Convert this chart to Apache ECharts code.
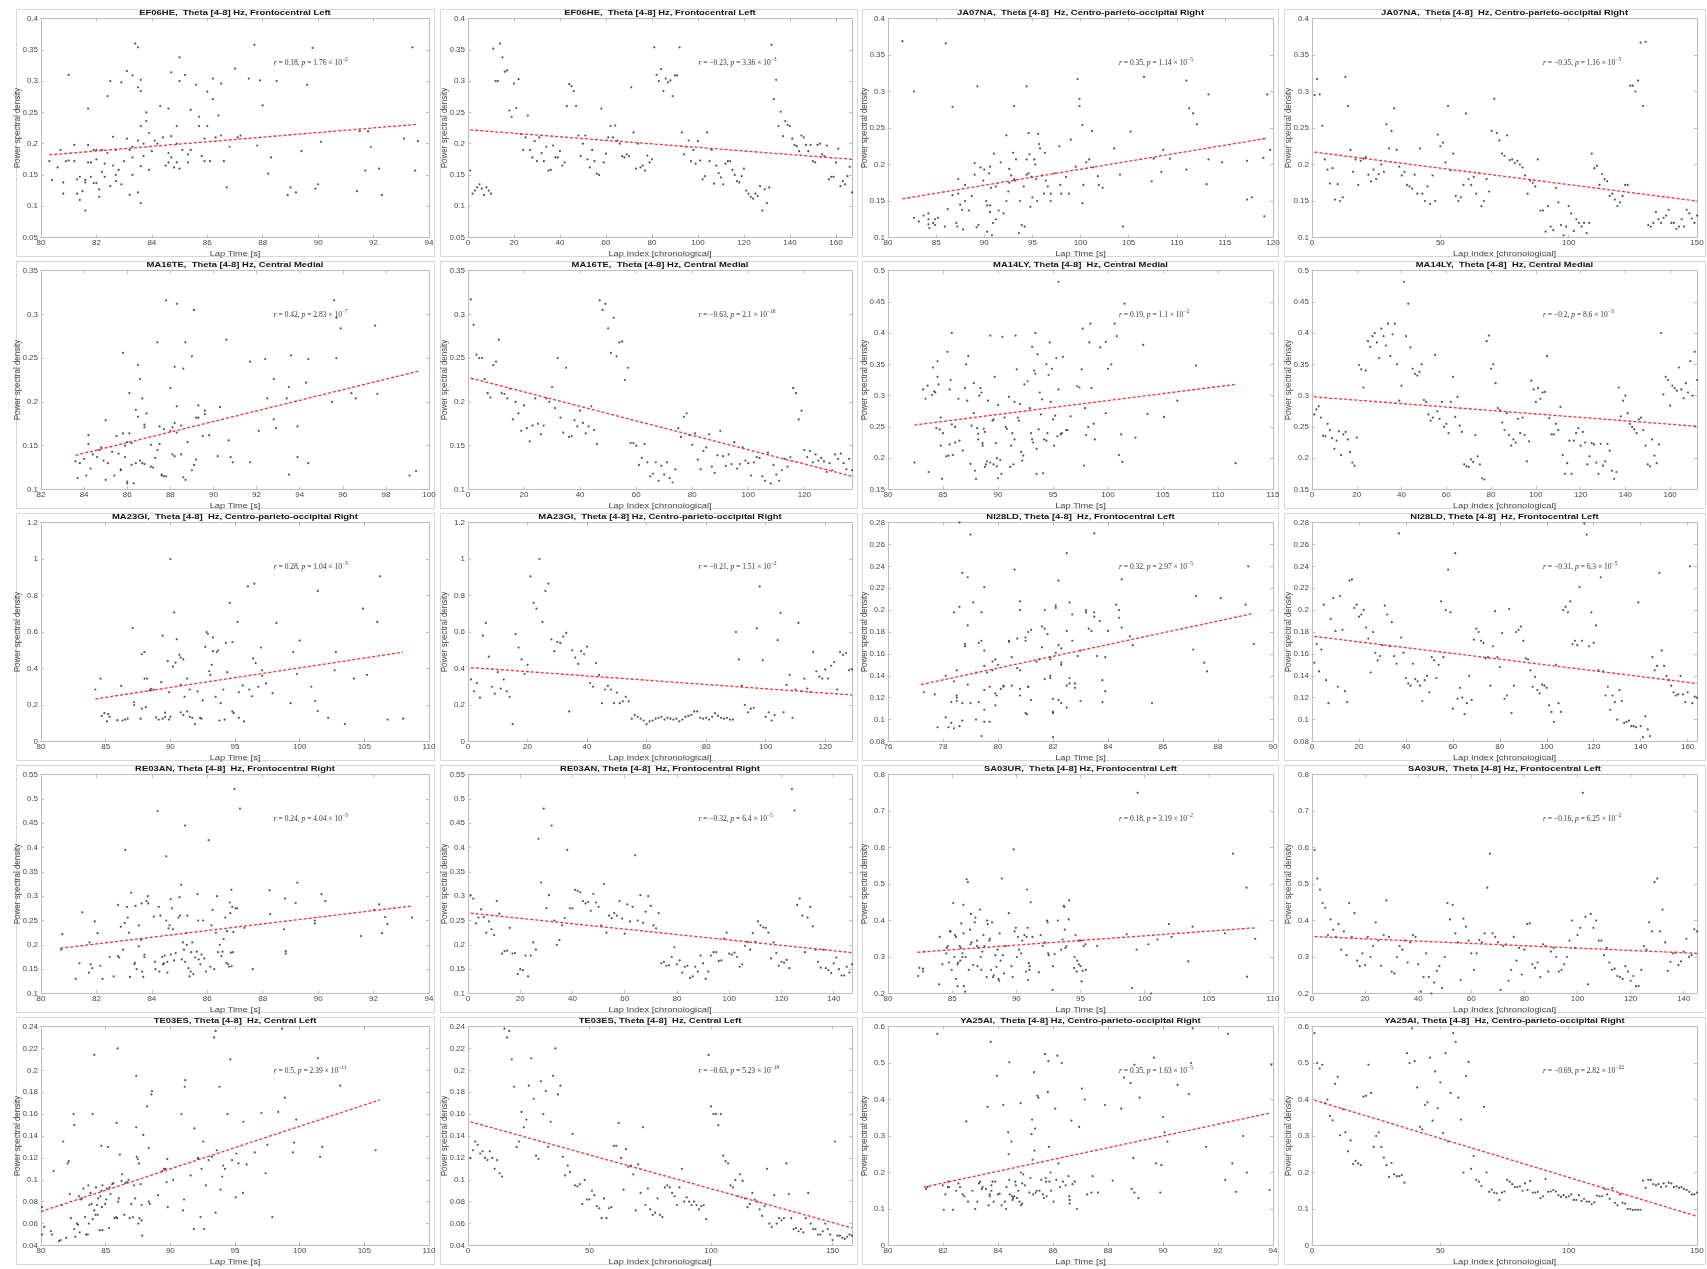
<!DOCTYPE html>
<html><head><meta charset="utf-8">
<script src="https://cdn.jsdelivr.net/npm/echarts@6/dist/echarts.min.js"></script>
<style>html,body{margin:0;padding:0;background:#fff;}#c{width:1707px;height:1269px;}</style>
</head><body><div id="c"></div>
<script>
// ---------------- DATA ----------------
const LAP_NAME = 'Lap Time [s]';
const IDX_NAME = 'Lap Index [chronological]';
const Y_NAME = 'Power spectral density';

// EF06HE
const EF06HE_lap = [[80.3,0.172],[80.4,0.142],[80.6,0.162],[80.7,0.19],[80.8,0.12],[80.8,0.138],[80.9,0.172],[81.0,0.31],[81.0,0.173],[81.2,0.198],[81.2,0.172],[81.3,0.143],[81.3,0.12],[81.4,0.147],[81.4,0.11],[81.5,0.124],[81.6,0.093],[81.6,0.142],[81.6,0.138],[81.7,0.256],[81.7,0.198],[81.7,0.17],[81.8,0.147],[81.8,0.17],[81.9,0.19],[81.9,0.137],[82.0,0.137],[82.0,0.19],[82.0,0.175],[82.1,0.115],[82.1,0.127],[82.2,0.155],[82.2,0.19],[82.3,0.168],[82.3,0.147],[82.4,0.185],[82.4,0.276],[82.5,0.3],[82.5,0.132],[82.6,0.211],[82.6,0.165],[82.7,0.14],[82.7,0.15],[82.7,0.19],[82.8,0.158],[82.9,0.298],[82.9,0.135],[83.0,0.172],[83.1,0.316],[83.1,0.208],[83.2,0.118],[83.2,0.19],[83.3,0.15],[83.3,0.178],[83.3,0.309],[83.3,0.195],[83.4,0.36],[83.5,0.354],[83.5,0.29],[83.5,0.205],[83.5,0.122],[83.6,0.284],[83.6,0.302],[83.6,0.228],[83.6,0.164],[83.6,0.105],[83.7,0.2],[83.7,0.18],[83.8,0.25],[83.8,0.236],[83.9,0.217],[83.9,0.158],[84.0,0.188],[84.1,0.205],[84.2,0.2],[84.3,0.26],[84.4,0.21],[84.5,0.165],[84.6,0.256],[84.6,0.185],[84.6,0.17],[84.7,0.314],[84.7,0.212],[84.7,0.178],[84.8,0.162],[84.9,0.228],[84.9,0.2],[84.9,0.17],[85.0,0.338],[85.0,0.3],[85.0,0.16],[85.1,0.19],[85.2,0.31],[85.3,0.183],[85.3,0.17],[85.4,0.254],[85.4,0.19],[85.6,0.294],[85.7,0.228],[85.7,0.243],[85.8,0.18],[85.9,0.172],[85.9,0.208],[86.0,0.228],[86.0,0.283],[86.1,0.172],[86.2,0.304],[86.2,0.271],[86.3,0.21],[86.4,0.245],[86.5,0.296],[86.5,0.213],[86.6,0.172],[86.7,0.13],[86.8,0.195],[87.0,0.32],[87.1,0.21],[87.2,0.213],[87.5,0.304],[87.7,0.358],[87.8,0.197],[87.9,0.301],[88.0,0.261],[88.2,0.152],[88.3,0.178],[88.5,0.3],[88.9,0.118],[89.0,0.13],[89.2,0.122],[89.4,0.188],[89.6,0.294],[89.8,0.353],[89.9,0.128],[90.0,0.135],[90.1,0.203],[91.4,0.124],[91.5,0.22],[91.7,0.157],[91.8,0.22],[91.9,0.195],[92.2,0.16],[92.3,0.118],[93.1,0.208],[93.4,0.354],[93.5,0.157],[93.6,0.204]];
const EF06HE_idx = [0.157,0.12,0.125,0.13,0.135,0.128,0.118,0.13,0.125,0.12,0.352,0.30,0.30,0.36,0.338,0.315,0.317,0.253,0.243,0.296,0.257,0.303,0.215,0.19,0.21,0.245,0.19,0.178,0.204,0.172,0.21,0.185,0.172,0.195,0.157,0.158,0.197,0.178,0.178,0.188,0.165,0.17,0.26,0.295,0.292,0.284,0.26,0.213,0.18,0.2,0.213,0.175,0.162,0.19,0.172,0.152,0.15,0.256,0.17,0.184,0.21,0.228,0.21,0.229,0.205,0.2,0.18,0.178,0.183,0.18,0.29,0.218,0.16,0.2,0.162,0.165,0.157,0.181,0.17,0.175,0.354,0.31,0.3,0.319,0.284,0.304,0.298,0.301,0.276,0.309,0.309,0.354,0.218,0.183,0.195,0.205,0.172,0.19,0.168,0.204,0.173,0.143,0.148,0.218,0.172,0.19,0.136,0.165,0.153,0.146,0.135,0.168,0.172,0.172,0.158,0.15,0.14,0.138,0.148,0.16,0.125,0.12,0.115,0.112,0.12,0.116,0.132,0.093,0.127,0.105,0.13,0.358,0.271,0.302,0.228,0.251,0.212,0.236,0.23,0.228,0.208,0.198,0.196,0.188,0.213,0.21,0.198,0.188,0.198,0.172,0.17,0.198,0.2,0.183,0.18,0.197,0.143,0.147,0.147,0.17,0.192,0.132,0.14,0.135,0.148,0.163,0.122];
const EF06HE_lapFit = [80.3,0.182,93.6,0.231];
const EF06HE_idxFit = [1,0.222,167,0.175];

// JA07NA
const JA07NA_lap = [[81.5,0.369],[82.7,0.3],[82.7,0.127],[83.2,0.122],[83.7,0.13],[84.2,0.133],[84.2,0.125],[84.2,0.118],[84.3,0.113],[84.7,0.12],[84.9,0.125],[84.9,0.117],[85.2,0.127],[85.9,0.115],[86.0,0.366],[86.2,0.139],[86.7,0.279],[86.7,0.158],[87.1,0.12],[87.2,0.115],[87.3,0.18],[87.3,0.16],[87.5,0.145],[87.7,0.138],[87.8,0.111],[88.0,0.15],[88.0,0.172],[88.4,0.137],[88.7,0.157],[89.0,0.202],[89.0,0.186],[89.2,0.114],[89.3,0.307],[89.4,0.117],[89.6,0.196],[89.9,0.178],[90.0,0.193],[90.2,0.15],[90.3,0.144],[90.3,0.108],[90.5,0.188],[90.6,0.197],[90.6,0.135],[90.6,0.144],[90.7,0.168],[90.8,0.103],[90.9,0.12],[91.0,0.215],[91.2,0.125],[91.2,0.17],[91.5,0.137],[91.7,0.203],[92.0,0.133],[92.3,0.24],[92.3,0.15],[92.5,0.163],[92.6,0.194],[92.6,0.175],[92.8,0.185],[93.0,0.216],[93.1,0.28],[93.1,0.18],[93.2,0.178],[93.3,0.207],[93.6,0.106],[93.7,0.15],[93.9,0.117],[94.1,0.17],[94.2,0.115],[94.4,0.307],[94.4,0.207],[94.4,0.186],[94.6,0.188],[94.6,0.243],[94.7,0.214],[94.8,0.142],[94.9,0.183],[95.0,0.155],[95.2,0.207],[95.3,0.2],[95.4,0.18],[95.5,0.15],[95.6,0.242],[95.7,0.228],[95.8,0.222],[96.0,0.185],[96.2,0.16],[96.3,0.216],[96.4,0.178],[96.6,0.17],[96.9,0.15],[96.9,0.16],[97.3,0.188],[97.8,0.225],[97.9,0.172],[98.0,0.16],[98.5,0.183],[98.8,0.16],[99.0,0.234],[99.5,0.197],[99.7,0.317],[99.9,0.29],[99.9,0.28],[100.2,0.147],[100.2,0.254],[100.3,0.172],[100.6,0.203],[100.9,0.207],[101.2,0.246],[101.3,0.196],[101.8,0.184],[101.9,0.172],[102.3,0.168],[103.5,0.222],[104.1,0.186],[104.4,0.115],[105.2,0.245],[106.6,0.32],[107.4,0.177],[107.6,0.208],[108.4,0.19],[108.6,0.22],[109.3,0.208],[111.0,0.315],[111.0,0.193],[111.3,0.277],[111.7,0.27],[112.1,0.255],[113.1,0.173],[113.3,0.296],[113.3,0.207],[114.7,0.203],[117.3,0.152],[117.3,0.205],[117.8,0.155],[119.0,0.209],[119.1,0.129],[119.4,0.296],[119.7,0.22]];
const JA07NA_idx = [0.295,0.317,0.296,0.253,0.207,0.193,0.174,0.195,0.152,0.173,0.15,0.155,0.32,0.28,0.22,0.19,0.207,0.172,0.205,0.208,0.21,0.186,0.177,0.193,0.18,0.187,0.2,0.19,0.255,0.222,0.246,0.277,0.22,0.197,0.185,0.19,0.172,0.17,0.167,0.186,0.16,0.222,0.16,0.15,0.17,0.146,0.185,0.15,0.241,0.225,0.23,0.203,0.28,0.192,0.215,0.157,0.15,0.155,0.172,0.27,0.18,0.172,0.183,0.16,0.188,0.143,0.15,0.18,0.163,0.246,0.29,0.243,0.233,0.215,0.212,0.24,0.206,0.207,0.202,0.205,0.2,0.196,0.185,0.16,0.178,0.175,0.17,0.207,0.137,0.137,0.108,0.143,0.115,0.11,0.168,0.148,0.117,0.103,0.115,0.143,0.133,0.109,0.125,0.12,0.115,0.12,0.106,0.12,0.215,0.195,0.198,0.172,0.187,0.18,0.177,0.157,0.16,0.152,0.143,0.148,0.157,0.172,0.172,0.308,0.308,0.3,0.315,0.367,0.28,0.368,0.117,0.115,0.12,0.135,0.125,0.12,0.127,0.13,0.138,0.12,0.12,0.112,0.115,0.125,0.115,0.138,0.133,0.126,0.12,0.13];
const JA07NA_lapFit = [81.5,0.153,119.4,0.236];
const JA07NA_idxFit = [1,0.217,150,0.15];

// MA16TE
const MA16TE_lap = [[83.6,0.132],[83.7,0.113],[83.8,0.13],[84.0,0.135],[84.1,0.116],[84.2,0.162],[84.2,0.152],[84.3,0.124],[84.4,0.14],[84.6,0.137],[84.7,0.145],[84.8,0.148],[84.9,0.133],[85.0,0.179],[85.0,0.111],[85.1,0.13],[85.3,0.143],[85.4,0.116],[85.5,0.161],[85.6,0.141],[85.7,0.123],[85.7,0.122],[85.8,0.164],[85.8,0.256],[85.9,0.137],[85.9,0.15],[86.0,0.154],[86.0,0.109],[86.0,0.107],[86.1,0.21],[86.1,0.164],[86.2,0.153],[86.2,0.128],[86.3,0.107],[86.4,0.191],[86.4,0.13],[86.5,0.242],[86.5,0.183],[86.6,0.226],[86.6,0.133],[86.7,0.204],[86.7,0.13],[86.8,0.174],[86.8,0.171],[86.8,0.129],[86.9,0.187],[87.1,0.151],[87.1,0.126],[87.2,0.125],[87.3,0.136],[87.4,0.268],[87.4,0.145],[87.5,0.172],[87.5,0.152],[87.6,0.117],[87.6,0.116],[87.7,0.169],[87.7,0.115],[87.8,0.316],[87.8,0.115],[88.0,0.216],[88.0,0.167],[88.1,0.171],[88.1,0.14],[88.2,0.24],[88.2,0.176],[88.2,0.138],[88.3,0.312],[88.3,0.195],[88.3,0.165],[88.5,0.173],[88.5,0.14],[88.6,0.238],[88.6,0.114],[88.7,0.268],[88.7,0.111],[88.8,0.154],[89.0,0.252],[89.0,0.122],[89.1,0.128],[89.1,0.305],[89.2,0.182],[89.2,0.134],[89.3,0.196],[89.3,0.182],[89.5,0.161],[89.6,0.19],[89.6,0.186],[89.8,0.162],[90.3,0.194],[90.2,0.138],[90.6,0.271],[90.7,0.156],[90.8,0.137],[90.9,0.131],[91.7,0.246],[91.7,0.131],[92.1,0.167],[92.4,0.249],[92.5,0.204],[92.8,0.18],[92.8,0.226],[92.9,0.17],[93.4,0.204],[93.5,0.217],[93.6,0.253],[93.5,0.117],[93.9,0.172],[93.9,0.137],[94.3,0.222],[94.4,0.249],[94.4,0.13],[95.5,0.2],[95.6,0.316],[95.7,0.296],[95.7,0.25],[95.9,0.284],[96.4,0.21],[96.6,0.204],[97.5,0.287],[97.6,0.209],[99.1,0.116],[99.4,0.121]];
const MA16TE_idx = [0.317,0.288,0.254,0.25,0.25,0.226,0.21,0.205,0.242,0.246,0.271,0.21,0.209,0.204,0.215,0.18,0.2,0.187,0.167,0.196,0.17,0.155,0.173,0.204,0.175,0.163,0.173,0.204,0.2,0.217,0.193,0.25,0.182,0.165,0.239,0.16,0.161,0.179,0.172,0.19,0.176,0.164,0.172,0.195,0.168,0.152,0.316,0.305,0.312,0.284,0.256,0.296,0.252,0.268,0.269,0.225,0.239,0.153,0.153,0.15,0.128,0.136,0.152,0.131,0.115,0.118,0.131,0.11,0.127,0.117,0.131,0.113,0.108,0.123,0.17,0.16,0.183,0.187,0.162,0.151,0.164,0.134,0.123,0.144,0.148,0.163,0.126,0.119,0.139,0.167,0.138,0.127,0.14,0.129,0.154,0.124,0.129,0.148,0.133,0.13,0.116,0.131,0.137,0.136,0.115,0.11,0.142,0.107,0.128,0.117,0.11,0.122,0.135,0.126,0.137,0.216,0.21,0.18,0.19,0.145,0.137,0.144,0.131,0.14,0.133,0.136,0.132,0.12,0.13,0.122,0.14,0.135,0.141,0.13,0.123,0.135,0.122];
const MA16TE_lapFit = [83.6,0.139,99.5,0.235];
const MA16TE_idxFit = [1,0.227,137,0.115];

// MA14LY
const MA14LY_lap = [[82.4,0.193],[83.2,0.31],[83.4,0.295],[83.6,0.316],[83.7,0.178],[84.0,0.301],[84.1,0.345],[84.2,0.307],[84.3,0.305],[84.4,0.248],[84.5,0.355],[84.5,0.33],[84.6,0.318],[84.7,0.246],[84.8,0.265],[84.8,0.22],[84.9,0.167],[85.0,0.24],[85.3,0.203],[85.4,0.37],[85.5,0.204],[85.6,0.31],[85.6,0.222],[85.7,0.325],[85.8,0.4],[85.8,0.254],[85.9,0.205],[86.1,0.225],[86.1,0.25],[86.4,0.295],[86.5,0.228],[86.8,0.212],[87.0,0.312],[87.1,0.35],[87.2,0.292],[87.3,0.363],[87.5,0.191],[87.6,0.252],[87.8,0.32],[87.8,0.272],[87.9,0.18],[88.0,0.167],[88.1,0.248],[88.2,0.239],[88.2,0.23],[88.3,0.3],[88.4,0.312],[88.5,0.305],[88.6,0.224],[88.6,0.22],[88.7,0.247],[88.8,0.242],[88.8,0.186],[88.9,0.19],[89.0,0.195],[89.1,0.292],[89.3,0.193],[89.3,0.396],[89.5,0.26],[89.6,0.262],[89.6,0.19],[89.7,0.33],[89.8,0.224],[89.9,0.2],[89.9,0.187],[90.0,0.168],[90.0,0.285],[90.2,0.197],[90.3,0.175],[90.4,0.394],[90.6,0.265],[90.7,0.25],[90.8,0.247],[91.0,0.298],[91.1,0.186],[91.2,0.22],[91.3,0.24],[91.4,0.19],[91.5,0.29],[91.5,0.23],[91.6,0.396],[91.7,0.342],[91.8,0.265],[91.9,0.26],[92.0,0.287],[92.1,0.21],[92.2,0.196],[92.3,0.204],[92.4,0.318],[92.7,0.323],[92.9,0.28],[93.0,0.24],[93.1,0.23],[93.2,0.225],[93.1,0.378],[93.3,0.34],[93.4,0.335],[93.5,0.215],[93.5,0.175],[93.4,0.4],[93.7,0.246],[93.6,0.366],[93.8,0.305],[93.9,0.27],[94.0,0.294],[94.1,0.176],[94.2,0.23],[94.4,0.228],[94.5,0.24],[94.4,0.35],[94.6,0.333],[94.7,0.385],[94.8,0.29],[94.9,0.343],[95.0,0.262],[95.1,0.22],[95.3,0.36],[95.4,0.235],[95.2,0.268],[95.5,0.31],[95.7,0.238],[95.5,0.482],[95.8,0.24],[95.9,0.362],[96.2,0.245],[96.3,0.245],[96.6,0.267],[97.2,0.315],[97.4,0.313],[97.6,0.342],[97.8,0.188],[97.7,0.407],[97.9,0.28],[98.0,0.237],[98.2,0.25],[98.3,0.385],[98.4,0.415],[98.5,0.312],[98.7,0.255],[98.8,0.23],[99.3,0.377],[99.8,0.272],[100.0,0.343],[99.8,0.386],[100.3,0.35],[100.6,0.415],[100.8,0.395],[101.0,0.205],[101.2,0.238],[101.3,0.194],[101.5,0.447],[102.5,0.233],[103.2,0.381],[103.6,0.271],[105.1,0.266],[106.3,0.292],[108.0,0.348],[111.6,0.192]];
const MA14LY_idx = [0.27,0.278,0.283,0.265,0.236,0.235,0.255,0.245,0.232,0.215,0.228,0.243,0.205,0.238,0.242,0.23,0.21,0.193,0.188,0.233,0.349,0.342,0.313,0.34,0.387,0.378,0.395,0.4,0.385,0.36,0.407,0.395,0.38,0.415,0.363,0.398,0.415,0.35,0.292,0.316,0.482,0.395,0.447,0.377,0.343,0.335,0.332,0.338,0.35,0.293,0.29,0.27,0.26,0.265,0.365,0.275,0.263,0.29,0.25,0.255,0.24,0.29,0.33,0.266,0.298,0.252,0.242,0.19,0.187,0.186,0.198,0.194,0.237,0.203,0.19,0.168,0.166,0.387,0.396,0.343,0.35,0.32,0.28,0.277,0.257,0.245,0.272,0.237,0.22,0.23,0.225,0.263,0.24,0.265,0.237,0.195,0.227,0.324,0.31,0.29,0.312,0.295,0.305,0.306,0.363,0.264,0.238,0.238,0.255,0.245,0.282,0.205,0.175,0.192,0.228,0.175,0.228,0.24,0.248,0.22,0.242,0.225,0.19,0.203,0.224,0.222,0.193,0.175,0.223,0.188,0.195,0.223,0.212,0.18,0.167,0.178,0.313,0.267,0.292,0.3,0.272,0.255,0.25,0.246,0.24,0.262,0.265,0.245,0.22,0.19,0.187,0.23,0.204,0.192,0.222,0.4,0.302,0.33,0.325,0.284,0.316,0.312,0.308,0.345,0.31,0.296,0.32,0.305,0.355,0.3,0.37,0.325];
const MA14LY_lapFit = [82.4,0.253,111.6,0.318];
const MA14LY_idxFit = [1,0.298,172,0.251];

// MA23GI
const MA23GI_lap = [[84.2,0.285],[84.6,0.345],[84.7,0.14],[84.9,0.155],[85.1,0.11],[85.2,0.15],[85.3,0.135],[85.9,0.117],[86.2,0.305],[86.3,0.115],[86.5,0.12],[86.7,0.125],[87.1,0.622],[87.2,0.215],[87.2,0.2],[87.7,0.125],[87.8,0.478],[87.8,0.18],[88.0,0.49],[88.0,0.345],[88.1,0.188],[88.2,0.345],[88.4,0.28],[88.5,0.288],[88.7,0.285],[88.9,0.132],[89.1,0.12],[89.3,0.325],[89.4,0.58],[89.4,0.125],[89.6,0.158],[89.6,0.135],[89.8,0.44],[89.9,0.27],[89.9,0.12],[90.0,1.0],[90.0,0.135],[90.2,0.41],[90.3,0.707],[90.4,0.432],[90.5,0.56],[90.7,0.475],[90.8,0.46],[90.8,0.31],[90.8,0.16],[91.0,0.45],[91.0,0.145],[91.1,0.245],[91.3,0.345],[91.3,0.165],[91.5,0.285],[91.5,0.135],[91.7,0.13],[91.9,0.095],[92.1,0.275],[92.3,0.13],[92.4,0.125],[92.5,0.225],[92.7,0.518],[92.8,0.6],[92.9,0.59],[93.0,0.385],[93.1,0.365],[93.2,0.42],[93.3,0.57],[93.3,0.495],[93.5,0.245],[93.6,0.49],[93.7,0.5],[93.8,0.115],[93.9,0.21],[94.1,0.285],[94.2,0.12],[94.3,0.54],[94.4,0.38],[94.6,0.76],[94.8,0.545],[94.8,0.165],[94.9,0.155],[95.2,0.655],[95.3,0.27],[95.3,0.13],[95.6,0.307],[95.7,0.11],[96.0,0.85],[96.1,0.285],[96.3,0.248],[96.5,0.865],[96.4,0.455],[96.6,0.43],[96.8,0.3],[97.0,0.515],[97.1,0.36],[97.1,0.39],[97.4,0.318],[97.9,0.265],[98.2,0.65],[99.3,0.21],[99.5,0.49],[99.8,0.37],[100.0,0.553],[100.9,0.3],[101.2,0.222],[101.4,0.167],[101.4,0.825],[102.2,0.13],[102.7,0.39],[102.8,0.49],[103.5,0.095],[104.2,0.345],[104.9,0.728],[105.2,0.365],[106.0,0.655],[106.2,0.905],[106.8,0.12],[108.0,0.125]];
const MA23GI_idx = [0.34,0.275,0.32,0.24,0.58,0.65,0.465,0.3,0.262,0.38,0.29,0.34,0.275,0.245,0.095,0.588,0.515,0.45,0.37,0.42,0.905,0.76,0.728,1.0,0.655,0.825,0.865,0.56,0.495,0.545,0.54,0.575,0.595,0.165,0.5,0.46,0.425,0.495,0.478,0.52,0.32,0.3,0.43,0.365,0.21,0.285,0.305,0.285,0.21,0.268,0.21,0.22,0.245,0.22,0.125,0.145,0.135,0.125,0.115,0.095,0.11,0.115,0.125,0.13,0.135,0.12,0.13,0.125,0.12,0.125,0.11,0.12,0.135,0.14,0.145,0.165,0.165,0.13,0.125,0.13,0.12,0.135,0.155,0.14,0.13,0.125,0.13,0.12,0.12,0.6,0.45,0.305,0.2,0.16,0.18,0.185,0.62,0.85,0.445,0.135,0.16,0.115,0.145,0.555,0.705,0.16,0.31,0.365,0.13,0.285,0.65,0.275,0.345,0.29,0.27,0.49,0.385,0.355,0.345,0.395,0.345,0.415,0.435,0.285,0.49,0.475,0.485,0.39,0.395];
const MA23GI_lapFit = [84.2,0.233,108.0,0.49];
const MA23GI_idxFit = [1,0.405,129,0.255];

// NI28LD
const NI28LD_lap = [[77.3,0.125],[77.7,0.123],[77.8,0.093],[78.1,0.102],[78.1,0.14],[78.2,0.093],[78.3,0.116],[78.3,0.097],[78.4,0.092],[78.4,0.198],[78.4,0.135],[78.5,0.145],[78.5,0.122],[78.5,0.117],[78.6,0.28],[78.5,0.12],[78.6,0.203],[78.6,0.094],[78.7,0.115],[78.7,0.234],[78.7,0.099],[78.8,0.167],[78.8,0.169],[78.9,0.186],[78.9,0.132],[78.9,0.23],[79.0,0.115],[79.0,0.269],[79.1,0.207],[79.2,0.1],[79.2,0.143],[79.3,0.116],[79.3,0.17],[79.4,0.172],[79.4,0.085],[79.4,0.198],[79.5,0.098],[79.5,0.163],[79.5,0.149],[79.5,0.221],[79.5,0.127],[79.5,0.109],[79.6,0.143],[79.7,0.13],[79.7,0.098],[79.8,0.153],[79.8,0.145],[79.9,0.155],[79.9,0.124],[79.9,0.113],[80.0,0.15],[79.95,0.122],[80.1,0.128],[80.2,0.131],[80.2,0.13],[80.4,0.171],[80.4,0.172],[80.5,0.157],[80.5,0.131],[80.6,0.237],[80.7,0.174],[80.7,0.147],[80.8,0.145],[80.8,0.128],[80.8,0.122],[80.8,0.208],[80.8,0.2],[81.0,0.175],[81.0,0.172],[81.1,0.13],[81.0,0.106],[81.05,0.105],[81.1,0.13],[81.1,0.18],[81.2,0.118],[81.2,0.182],[81.4,0.153],[81.5,0.155],[81.6,0.166],[81.6,0.185],[81.7,0.137],[81.7,0.183],[81.7,0.2],[81.8,0.178],[81.9,0.14],[81.9,0.157],[81.9,0.155],[81.9,0.138],[82.0,0.119],[82.0,0.107],[82.0,0.106],[82.0,0.084],[82.1,0.202],[82.1,0.204],[82.1,0.161],[82.2,0.227],[82.2,0.168],[82.2,0.118],[82.3,0.115],[82.3,0.152],[82.3,0.15],[82.3,0.165],[82.5,0.181],[82.5,0.111],[82.5,0.131],[82.6,0.138],[82.6,0.133],[82.5,0.252],[82.6,0.207],[82.7,0.172],[82.7,0.196],[82.8,0.129],[82.8,0.133],[82.9,0.158],[83.0,0.163],[83.0,0.117],[83.2,0.198],[83.2,0.2],[83.3,0.183],[83.4,0.181],[83.5,0.194],[83.5,0.198],[83.5,0.27],[83.6,0.158],[83.7,0.19],[83.8,0.136],[83.8,0.116],[83.9,0.126],[83.9,0.157],[84.0,0.181],[84.3,0.205],[84.4,0.2],[84.4,0.193],[84.5,0.184],[84.5,0.228],[84.8,0.176],[84.9,0.168],[85.6,0.115],[87.1,0.164],[87.2,0.213],[87.5,0.152],[87.6,0.144],[88.1,0.211],[89.0,0.205],[89.1,0.24],[89.3,0.169]];
const NI28LD_idx = [0.152,0.169,0.144,0.164,0.205,0.136,0.115,0.192,0.211,0.181,0.13,0.213,0.182,0.126,0.116,0.227,0.228,0.202,0.205,0.194,0.196,0.2,0.184,0.174,0.143,0.18,0.161,0.154,0.158,0.168,0.204,0.196,0.167,0.189,0.158,0.151,0.27,0.175,0.161,0.138,0.133,0.131,0.151,0.137,0.135,0.131,0.117,0.136,0.14,0.125,0.157,0.154,0.138,0.15,0.208,0.157,0.2,0.237,0.198,0.11,0.252,0.119,0.129,0.12,0.105,0.115,0.14,0.118,0.173,0.183,0.18,0.172,0.17,0.156,0.157,0.131,0.167,0.199,0.157,0.148,0.179,0.119,0.122,0.201,0.106,0.131,0.18,0.182,0.185,0.172,0.156,0.155,0.145,0.13,0.139,0.127,0.124,0.132,0.131,0.129,0.113,0.107,0.098,0.15,0.115,0.107,0.2,0.203,0.198,0.208,0.169,0.172,0.168,0.221,0.172,0.279,0.269,0.167,0.198,0.17,0.186,0.145,0.23,0.144,0.122,0.13,0.109,0.122,0.116,0.1,0.127,0.117,0.097,0.098,0.099,0.094,0.094,0.093,0.207,0.094,0.084,0.103,0.091,0.085,0.157,0.145,0.149,0.234,0.163,0.149,0.14,0.136,0.131,0.125,0.122,0.123,0.14,0.123,0.116,0.125,0.24,0.115,0.121,0.12];
const NI28LD_lapFit = [77.2,0.132,89.3,0.197];
const NI28LD_idxFit = [1,0.176,164,0.133];

// RE03AN
const RE03AN_lap = [[80.73,0.19],[80.77,0.222],[81.25,0.13],[81.39,0.162],[81.49,0.267],[81.73,0.143],[81.75,0.205],[81.79,0.16],[81.85,0.152],[81.94,0.248],[82.04,0.224],[82.14,0.157],[82.22,0.13],[82.48,0.175],[82.62,0.135],[82.78,0.282],[82.78,0.177],[82.82,0.174],[82.88,0.237],[82.96,0.19],[83.02,0.245],[83.04,0.395],[83.1,0.278],[83.13,0.256],[83.17,0.225],[83.21,0.134],[83.25,0.307],[83.37,0.16],[83.39,0.163],[83.41,0.28],[83.45,0.15],[83.53,0.197],[83.53,0.24],[83.61,0.21],[83.63,0.285],[83.65,0.145],[83.69,0.134],[83.73,0.175],[83.73,0.18],[83.81,0.29],[83.85,0.3],[83.87,0.285],[84.07,0.258],[84.11,0.165],[84.13,0.15],[84.21,0.475],[84.25,0.278],[84.27,0.145],[84.31,0.26],[84.37,0.175],[84.4,0.16],[84.44,0.162],[84.46,0.178],[84.52,0.382],[84.52,0.25],[84.56,0.165],[84.56,0.143],[84.6,0.234],[84.64,0.24],[84.68,0.294],[84.72,0.275],[84.68,0.18],[84.76,0.232],[84.8,0.168],[84.86,0.183],[84.96,0.256],[85.0,0.298],[85.02,0.26],[85.06,0.323],[85.08,0.17],[85.12,0.205],[85.16,0.19],[85.2,0.445],[85.2,0.165],[85.24,0.224],[85.26,0.2],[85.28,0.26],[85.32,0.152],[85.36,0.135],[85.4,0.145],[85.42,0.185],[85.46,0.205],[85.5,0.14],[85.56,0.174],[85.62,0.186],[85.65,0.304],[85.67,0.25],[85.69,0.17],[85.75,0.16],[85.79,0.18],[85.85,0.25],[85.89,0.172],[85.95,0.145],[86.05,0.415],[86.11,0.155],[86.15,0.24],[86.19,0.272],[86.25,0.15],[86.31,0.225],[86.35,0.3],[86.39,0.185],[86.45,0.2],[86.51,0.177],[86.55,0.186],[86.59,0.212],[86.65,0.256],[86.69,0.163],[86.71,0.228],[86.75,0.16],[86.79,0.155],[86.81,0.287],[86.83,0.265],[86.85,0.184],[86.87,0.313],[86.88,0.156],[86.9,0.278],[86.92,0.185],[86.94,0.226],[86.98,0.52],[87.02,0.275],[87.08,0.275],[87.18,0.48],[87.34,0.235],[87.64,0.15],[88.25,0.312],[88.27,0.263],[88.77,0.232],[88.81,0.295],[88.83,0.187],[88.83,0.182],[89.19,0.286],[89.25,0.328],[89.88,0.244],[89.88,0.25],[90.12,0.304],[90.26,0.29],[91.55,0.218],[92.02,0.272],[92.2,0.283],[92.3,0.224],[92.42,0.257],[92.5,0.243],[93.39,0.256]];
const RE03AN_idx = [0.302,0.295,0.244,0.256,0.273,0.257,0.225,0.248,0.232,0.22,0.29,0.264,0.182,0.187,0.188,0.235,0.182,0.183,0.14,0.15,0.148,0.178,0.135,0.178,0.205,0.19,0.418,0.328,0.48,0.275,0.302,0.445,0.25,0.2,0.21,0.24,0.255,0.395,0.275,0.275,0.313,0.311,0.308,0.29,0.285,0.288,0.27,0.305,0.287,0.278,0.24,0.325,0.225,0.26,0.255,0.265,0.26,0.29,0.254,0.223,0.283,0.248,0.278,0.384,0.25,0.302,0.245,0.268,0.3,0.28,0.24,0.234,0.265,0.162,0.165,0.157,0.158,0.175,0.195,0.16,0.168,0.143,0.155,0.157,0.132,0.135,0.155,0.145,0.178,0.162,0.13,0.145,0.178,0.185,0.185,0.167,0.168,0.213,0.225,0.182,0.18,0.184,0.175,0.155,0.16,0.198,0.206,0.19,0.224,0.206,0.248,0.24,0.236,0.235,0.225,0.172,0.205,0.183,0.157,0.165,0.163,0.169,0.152,0.52,0.476,0.282,0.295,0.26,0.185,0.256,0.278,0.238,0.19,0.165,0.153,0.19,0.152,0.148,0.142,0.162,0.174,0.15,0.137,0.137,0.155,0.143,0.16];
const RE03AN_lapFit = [80.7,0.193,93.4,0.28];
const RE03AN_idxFit = [1,0.265,147,0.184];

// SA03UR
const SA03UR_lap = [[82.35,0.248],[82.44,0.27],[82.73,0.26],[82.73,0.268],[82.82,0.315],[83.99,0.225],[84.03,0.355],[84.24,0.28],[84.54,0.31],[84.58,0.325],[84.66,0.33],[84.75,0.285],[84.83,0.37],[84.87,0.37],[84.96,0.265],[85.08,0.448],[85.17,0.3],[85.21,0.36],[85.29,0.24],[85.29,0.355],[85.42,0.28],[85.42,0.22],[85.46,0.285],[85.59,0.33],[85.63,0.29],[85.67,0.325],[85.71,0.392],[85.8,0.31],[85.8,0.3],[85.88,0.365],[85.88,0.443],[85.92,0.22],[86.01,0.205],[86.05,0.3],[86.13,0.513],[86.22,0.505],[86.3,0.265],[86.39,0.375],[86.43,0.335],[86.47,0.418],[86.51,0.34],[86.64,0.278],[86.76,0.395],[86.81,0.408],[86.93,0.33],[86.93,0.345],[86.97,0.275],[87.06,0.325],[87.18,0.43],[87.23,0.3],[87.27,0.265],[87.35,0.315],[87.44,0.36],[87.52,0.33],[87.69,0.245],[87.73,0.4],[87.77,0.39],[87.9,0.345],[87.94,0.35],[88.03,0.265],[88.11,0.395],[88.19,0.245],[88.24,0.25],[88.36,0.305],[88.45,0.273],[88.53,0.32],[88.61,0.24],[88.66,0.235],[88.7,0.365],[88.78,0.29],[88.87,0.515],[88.95,0.305],[89.03,0.255],[89.16,0.33],[89.41,0.42],[89.62,0.275],[89.71,0.245],[89.79,0.595],[89.87,0.37],[89.96,0.38],[90.04,0.3],[90.13,0.355],[90.21,0.32],[90.38,0.31],[90.46,0.345],[90.63,0.36],[90.76,0.26],[90.8,0.355],[90.84,0.485],[90.88,0.38],[90.92,0.237],[90.97,0.283],[91.01,0.265],[91.05,0.275],[91.13,0.45],[91.26,0.355],[91.76,0.258],[91.89,0.36],[92.06,0.33],[92.23,0.34],[92.39,0.4],[92.44,0.395],[92.48,0.31],[92.52,0.305],[92.82,0.21],[92.86,0.275],[92.98,0.308],[93.24,0.4],[93.49,0.32],[93.61,0.348],[93.7,0.44],[93.74,0.437],[93.78,0.375],[93.82,0.325],[93.91,0.33],[94.08,0.403],[94.12,0.455],[94.5,0.27],[94.54,0.3],[94.62,0.36],[94.71,0.26],[94.75,0.29],[94.83,0.345],[94.87,0.28],[94.92,0.345],[95.0,0.275],[95.04,0.345],[95.08,0.233],[95.17,0.262],[95.25,0.33],[95.38,0.335],[95.42,0.265],[96.3,0.33],[98.61,0.362],[99.03,0.215],[99.37,0.32],[99.45,0.75],[100.29,0.335],[100.5,0.2],[101.0,0.348],[101.89,0.39],[102.1,0.355],[103.4,0.288],[103.74,0.383],[106.26,0.365],[106.89,0.583],[107.94,0.49],[107.98,0.246],[108.61,0.35]];
const SA03UR_idx = [0.593,0.515,0.485,0.448,0.435,0.36,0.403,0.375,0.355,0.39,0.32,0.37,0.305,0.448,0.355,0.42,0.29,0.275,0.31,0.278,0.355,0.3,0.33,0.395,0.345,0.276,0.36,0.455,0.355,0.26,0.255,0.3,0.33,0.32,0.345,0.285,0.34,0.36,0.355,0.28,0.205,0.245,0.31,0.245,0.2,0.23,0.262,0.275,0.215,0.3,0.448,0.403,0.443,0.365,0.34,0.237,0.405,0.383,0.345,0.31,0.265,0.31,0.347,0.34,0.365,0.49,0.583,0.365,0.355,0.34,0.21,0.33,0.335,0.235,0.265,0.355,0.29,0.325,0.252,0.32,0.39,0.392,0.28,0.27,0.285,0.245,0.335,0.33,0.26,0.315,0.325,0.3,0.26,0.265,0.28,0.3,0.345,0.4,0.325,0.36,0.38,0.75,0.41,0.225,0.418,0.38,0.4,0.345,0.345,0.305,0.325,0.285,0.265,0.268,0.248,0.245,0.24,0.275,0.26,0.235,0.248,0.22,0.22,0.265,0.33,0.32,0.395,0.37,0.505,0.515,0.37,0.43,0.34,0.262,0.287,0.31,0.312,0.278,0.288,0.315,0.35,0.3,0.305,0.376,0.37];
const SA03UR_lapFit = [82.3,0.313,108.6,0.38];
const SA03UR_idxFit = [1,0.356,145,0.31];

// TE03ES
const TE03ES_lap = [[80.08,0.075],[80.08,0.05],[80.25,0.057],[80.76,0.053],[80.84,0.05],[80.97,0.108],[81.39,0.044],[81.51,0.045],[81.6,0.077],[81.72,0.135],[81.94,0.047],[82.06,0.115],[82.15,0.117],[82.23,0.087],[82.31,0.065],[82.52,0.16],[82.57,0.15],[82.57,0.055],[82.65,0.048],[82.78,0.06],[82.86,0.059],[82.94,0.085],[82.99,0.052],[83.07,0.082],[83.16,0.083],[83.28,0.092],[83.41,0.066],[83.49,0.05],[83.62,0.05],[83.66,0.095],[83.7,0.06],[83.74,0.077],[83.83,0.088],[83.91,0.078],[83.99,0.16],[83.99,0.064],[84.12,0.214],[84.12,0.072],[84.21,0.068],[84.25,0.093],[84.33,0.077],[84.38,0.068],[84.42,0.083],[84.54,0.054],[84.59,0.085],[84.67,0.131],[84.67,0.09],[84.71,0.075],[84.75,0.095],[84.75,0.054],[84.96,0.078],[85.05,0.082],[85.09,0.092],[85.17,0.13],[85.26,0.056],[85.3,0.093],[85.38,0.087],[85.51,0.096],[85.6,0.097],[85.68,0.065],[85.81,0.066],[85.85,0.152],[85.89,0.065],[85.93,0.22],[85.97,0.08],[86.02,0.083],[86.1,0.123],[86.23,0.099],[86.27,0.105],[86.44,0.068],[86.52,0.097],[86.65,0.098],[86.77,0.1],[86.86,0.065],[86.98,0.078],[87.11,0.066],[87.19,0.095],[87.28,0.083],[87.36,0.148],[87.36,0.195],[87.4,0.121],[87.49,0.119],[87.53,0.06],[87.57,0.115],[87.61,0.065],[87.7,0.096],[87.78,0.077],[87.78,0.063],[87.83,0.049],[87.91,0.141],[88.2,0.167],[88.33,0.08],[88.33,0.129],[88.41,0.078],[88.54,0.178],[88.58,0.181],[89.05,0.086],[89.38,0.108],[89.51,0.11],[89.63,0.11],[89.72,0.098],[89.76,0.119],[89.8,0.075],[90.22,0.1],[90.85,0.16],[90.98,0.072],[91.06,0.082],[91.11,0.185],[91.15,0.191],[91.57,0.104],[91.82,0.055],[91.86,0.147],[92.12,0.12],[92.16,0.119],[92.33,0.066],[92.41,0.11],[92.54,0.135],[92.62,0.055],[92.75,0.095],[92.96,0.118],[93.21,0.121],[93.38,0.23],[93.5,0.07],[93.5,0.236],[93.59,0.127],[93.8,0.185],[93.88,0.091],[94.01,0.103],[94.09,0.113],[94.22,0.11],[94.43,0.16],[94.64,0.21],[94.77,0.118],[95.06,0.084],[95.1,0.124],[95.27,0.115],[95.61,0.088],[95.65,0.153],[95.9,0.114],[96.53,0.125],[97.04,0.161],[97.37,0.106],[97.5,0.132],[97.88,0.066],[98.34,0.162],[98.64,0.238],[98.85,0.175],[99.48,0.125],[99.56,0.134],[99.73,0.155],[101.41,0.211],[101.58,0.121],[101.75,0.13],[103.14,0.186],[105.87,0.127]];
const TE03ES_idx = [0.12,0.127,0.135,0.132,0.124,0.126,0.12,0.118,0.126,0.12,0.11,0.118,0.106,0.103,0.238,0.23,0.236,0.21,0.185,0.13,0.135,0.162,0.148,0.155,0.186,0.211,0.174,0.122,0.119,0.19,0.16,0.181,0.13,0.153,0.195,0.22,0.178,0.186,0.121,0.104,0.113,0.107,0.142,0.095,0.094,0.096,0.078,0.1,0.082,0.082,0.09,0.086,0.076,0.074,0.065,0.083,0.065,0.074,0.075,0.131,0.131,0.152,0.12,0.091,0.128,0.112,0.113,0.105,0.072,0.114,0.088,0.148,0.077,0.092,0.073,0.068,0.07,0.083,0.068,0.066,0.093,0.095,0.093,0.088,0.085,0.077,0.093,0.11,0.08,0.084,0.08,0.077,0.08,0.077,0.073,0.076,0.077,0.064,0.214,0.167,0.16,0.16,0.15,0.16,0.122,0.117,0.115,0.095,0.093,0.1,0.085,0.105,0.099,0.083,0.075,0.078,0.088,0.082,0.08,0.073,0.067,0.076,0.11,0.06,0.057,0.086,0.06,0.065,0.063,0.065,0.115,0.087,0.065,0.055,0.056,0.053,0.055,0.052,0.065,0.088,0.06,0.055,0.055,0.05,0.05,0.053,0.06,0.055,0.05,0.045,0.135,0.049,0.049,0.047,0.046,0.048,0.05,0.049];
const TE03ES_lapFit = [80.0,0.071,106.2,0.173];
const TE03ES_idxFit = [1,0.153,158,0.056];

// YA25AI
const YA25AI_lap = [[81.38,0.155],[81.44,0.16],[81.79,0.58],[81.99,0.165],[82.03,0.098],[82.09,0.14],[82.17,0.16],[82.19,0.175],[82.22,0.16],[82.36,0.098],[82.48,0.15],[82.56,0.17],[82.62,0.16],[82.72,0.14],[82.78,0.135],[82.85,0.34],[82.91,0.12],[83.07,0.15],[83.17,0.1],[83.25,0.12],[83.31,0.17],[83.35,0.175],[83.41,0.155],[83.44,0.16],[83.56,0.155],[83.62,0.38],[83.66,0.11],[83.7,0.135],[83.7,0.14],[83.74,0.558],[83.76,0.15],[83.76,0.165],[83.8,0.175],[83.84,0.12],[83.9,0.175],[83.96,0.465],[84.0,0.14],[84.06,0.142],[84.13,0.11],[84.19,0.385],[84.25,0.12],[84.29,0.1],[84.31,0.16],[84.37,0.31],[84.39,0.25],[84.41,0.18],[84.41,0.502],[84.43,0.14],[84.49,0.285],[84.51,0.135],[84.53,0.125],[84.55,0.13],[84.59,0.135],[84.63,0.175],[84.65,0.165],[84.69,0.13],[84.74,0.15],[84.78,0.12],[84.82,0.39],[84.84,0.2],[84.84,0.11],[84.88,0.115],[84.88,0.17],[84.92,0.195],[84.98,0.165],[85.14,0.145],[85.18,0.185],[85.22,0.305],[85.24,0.345],[85.26,0.235],[85.28,0.14],[85.31,0.475],[85.33,0.26],[85.35,0.32],[85.37,0.145],[85.41,0.15],[85.43,0.41],[85.47,0.405],[85.51,0.15],[85.57,0.18],[85.63,0.14],[85.67,0.13],[85.71,0.525],[85.73,0.185],[85.75,0.175],[85.77,0.135],[85.81,0.42],[85.83,0.505],[85.85,0.27],[85.87,0.175],[85.91,0.2],[85.93,0.15],[86.02,0.12],[86.08,0.375],[86.12,0.18],[86.16,0.52],[86.2,0.225],[86.26,0.16],[86.32,0.5],[86.36,0.175],[86.46,0.165],[86.56,0.19],[86.59,0.135],[86.61,0.115],[86.61,0.125],[86.67,0.342],[86.71,0.168],[86.79,0.175],[86.87,0.1],[86.95,0.325],[87.05,0.43],[87.15,0.4],[87.24,0.14],[87.4,0.145],[87.44,0.19],[87.64,0.145],[87.89,0.385],[88.17,0.178],[88.48,0.375],[88.58,0.46],[88.82,0.445],[88.86,0.155],[88.92,0.24],[88.96,0.145],[88.96,0.495],[89.11,0.13],[89.15,0.405],[89.67,0.515],[89.74,0.225],[89.9,0.145],[89.94,0.22],[90.0,0.352],[90.06,0.31],[90.16,0.285],[90.53,0.44],[90.94,0.415],[91.02,0.5],[91.08,0.595],[91.57,0.27],[92.26,0.18],[92.36,0.58],[92.52,0.225],[92.66,0.147],[92.91,0.3],[93.05,0.2],[93.88,0.152],[93.94,0.495]];
const YA25AI_idx = [0.582,0.5,0.485,0.495,0.39,0.4,0.355,0.343,0.443,0.462,0.302,0.373,0.31,0.258,0.288,0.223,0.232,0.225,0.22,0.408,0.41,0.495,0.418,0.27,0.3,0.31,0.27,0.241,0.22,0.188,0.226,0.195,0.19,0.19,0.193,0.172,0.527,0.5,0.595,0.505,0.433,0.325,0.318,0.385,0.392,0.515,0.342,0.477,0.376,0.447,0.308,0.527,0.285,0.418,0.582,0.558,0.405,0.345,0.2,0.465,0.503,0.21,0.245,0.18,0.175,0.163,0.38,0.2,0.147,0.153,0.145,0.143,0.125,0.145,0.148,0.18,0.175,0.168,0.16,0.16,0.162,0.15,0.17,0.152,0.177,0.145,0.145,0.147,0.13,0.135,0.182,0.147,0.148,0.152,0.148,0.138,0.133,0.138,0.132,0.135,0.14,0.125,0.125,0.138,0.122,0.128,0.12,0.12,0.113,0.118,0.137,0.135,0.135,0.155,0.14,0.128,0.157,0.117,0.11,0.14,0.117,0.115,0.1,0.1,0.097,0.098,0.098,0.098,0.178,0.158,0.18,0.18,0.168,0.165,0.168,0.16,0.17,0.162,0.172,0.17,0.16,0.162,0.158,0.16,0.155,0.152,0.147,0.14,0.14,0.145];
const YA25AI_lapFit = [81.3,0.16,93.9,0.363];
const YA25AI_idxFit = [1,0.398,150,0.08];

// ---------------- PANEL DEFINITIONS ----------------
const idxPairs = arr => arr.map((v, i) => [i + 1, v]);
const panels = [
  {row:0,col:0,title:'EF06HE,  Theta [4-8] Hz, Frontocentral Left',pts:EF06HE_lap,fit:EF06HE_lapFit,x:[80,94,2],y:[0.05,0.4,0.05],xName:LAP_NAME,ann:['0.18','1.76','−2']},
  {row:0,col:1,title:'EF06HE,  Theta [4-8] Hz, Frontocentral Left',pts:idxPairs(EF06HE_idx),fit:EF06HE_idxFit,x:[0,EF06HE_idx.length,20],y:[0.05,0.4,0.05],xName:IDX_NAME,ann:['−0.23','3.36','−3']},
  {row:0,col:2,title:'JA07NA,  Theta [4-8]  Hz, Centro-parieto-occipital Right',pts:JA07NA_lap,fit:JA07NA_lapFit,x:[80,120,5],y:[0.1,0.4,0.05],xName:LAP_NAME,ann:['0.35','1.14','−5']},
  {row:0,col:3,title:'JA07NA,  Theta [4-8]  Hz, Centro-parieto-occipital Right',pts:idxPairs(JA07NA_idx),fit:JA07NA_idxFit,x:[0,JA07NA_idx.length,50],y:[0.1,0.4,0.05],xName:IDX_NAME,ann:['−0.35','1.16','−5']},
  {row:1,col:0,title:'MA16TE,  Theta [4-8] Hz, Central Medial',pts:MA16TE_lap,fit:MA16TE_lapFit,x:[82,100,2],y:[0.1,0.35,0.05],xName:LAP_NAME,ann:['0.42','2.83','−7']},
  {row:1,col:1,title:'MA16TE,  Theta [4-8] Hz, Central Medial',pts:idxPairs(MA16TE_idx),fit:MA16TE_idxFit,x:[0,MA16TE_idx.length,20],y:[0.1,0.35,0.05],xName:IDX_NAME,ann:['−0.63','2.1','−16']},
  {row:1,col:2,title:'MA14LY, Theta [4-8]  Hz, Central Medial',pts:MA14LY_lap,fit:MA14LY_lapFit,x:[80,115,5],y:[0.15,0.5,0.05],xName:LAP_NAME,ann:['0.19','1.1','−2']},
  {row:1,col:3,title:'MA14LY,  Theta [4-8]  Hz, Central Medial',pts:idxPairs(MA14LY_idx),fit:MA14LY_idxFit,x:[0,MA14LY_idx.length,20],y:[0.15,0.5,0.05],xName:IDX_NAME,ann:['−0.2','8.6','−3']},
  {row:2,col:0,title:'MA23GI,  Theta [4-8]  Hz, Centro-parieto-occipital Right',pts:MA23GI_lap,fit:MA23GI_lapFit,x:[80,110,5],y:[0,1.2,0.2],xName:LAP_NAME,ann:['0.28','1.04','−3']},
  {row:2,col:1,title:'MA23GI,  Theta [4-8] Hz, Centro-parieto-occipital Right',pts:idxPairs(MA23GI_idx),fit:MA23GI_idxFit,x:[0,MA23GI_idx.length,20],y:[0,1.2,0.2],xName:IDX_NAME,ann:['−0.21','1.51','−2']},
  {row:2,col:2,title:'NI28LD, Theta [4-8]  Hz, Frontocentral Left',pts:NI28LD_lap,fit:NI28LD_lapFit,x:[76,90,2],y:[0.08,0.28,0.02],xName:LAP_NAME,ann:['0.32','2.97','−5']},
  {row:2,col:3,title:'NI28LD, Theta [4-8]  Hz, Frontocentral Left',pts:idxPairs(NI28LD_idx),fit:NI28LD_idxFit,x:[0,NI28LD_idx.length,20],y:[0.08,0.28,0.02],xName:IDX_NAME,ann:['−0.31','6.3','−5']},
  {row:3,col:0,title:'RE03AN, Theta [4-8]  Hz, Frontocentral Right',pts:RE03AN_lap,fit:RE03AN_lapFit,x:[80,94,2],y:[0.1,0.55,0.05],xName:LAP_NAME,ann:['0.24','4.04','−3']},
  {row:3,col:1,title:'RE03AN, Theta [4-8]  Hz, Frontocentral Right',pts:idxPairs(RE03AN_idx),fit:RE03AN_idxFit,x:[0,RE03AN_idx.length,20],y:[0.1,0.55,0.05],xName:IDX_NAME,ann:['−0.32','6.4','−5']},
  {row:3,col:2,title:'SA03UR,  Theta [4-8] Hz, Frontocentral Left',pts:SA03UR_lap,fit:SA03UR_lapFit,x:[80,110,5],y:[0.2,0.8,0.1],xName:LAP_NAME,ann:['0.18','3.19','−2']},
  {row:3,col:3,title:'SA03UR,  Theta [4-8] Hz, Frontocentral Left',pts:idxPairs(SA03UR_idx),fit:SA03UR_idxFit,x:[0,SA03UR_idx.length,20],y:[0.2,0.8,0.1],xName:IDX_NAME,ann:['−0.16','6.25','−2']},
  {row:4,col:0,title:'TE03ES, Theta [4-8]  Hz, Central Left',pts:TE03ES_lap,fit:TE03ES_lapFit,x:[80,110,5],y:[0.04,0.24,0.02],xName:LAP_NAME,ann:['0.5','2.39','−11']},
  {row:4,col:1,title:'TE03ES, Theta [4-8]  Hz, Central Left',pts:idxPairs(TE03ES_idx),fit:TE03ES_idxFit,x:[0,TE03ES_idx.length,50],y:[0.04,0.24,0.02],xName:IDX_NAME,ann:['−0.63','5.23','−19']},
  {row:4,col:2,title:'YA25AI,  Theta [4-8] Hz, Centro-parieto-occipital Right',pts:YA25AI_lap,fit:YA25AI_lapFit,x:[80,94,2],y:[0,0.6,0.1],xName:LAP_NAME,ann:['0.35','1.63','−5']},
  {row:4,col:3,title:'YA25AI, Theta [4-8]  Hz, Centro-parieto-occipital Right',pts:idxPairs(YA25AI_idx),fit:YA25AI_idxFit,x:[0,YA25AI_idx.length,50],y:[0,0.6,0.1],xName:IDX_NAME,ann:['−0.69','2.82','−22']}
];

// ---------------- LAYOUT ----------------
const COL_L = [41, 468, 888, 1312];
const COL_R = [429, 852, 1273, 1697];
const ROW_TOP0 = 18.5, ROW_STEP = 252, PLOT_H = 219;
const FRAME_X = [[16,434],[440,857],[862,1278],[1284,1705]];
const BOX = '#bdbdbd', TICK_TXT = '#474747';
const SANS = '"Liberation Sans", Arial, sans-serif';
const SERIF = '"Liberation Serif", "DejaVu Serif", serif';
const H_STRETCH = 1.16; // the reference text is horizontally stretched

const grid = [], xAxis = [], yAxis = [], series = [], graphic = [];
const isMult = (v, step) => Math.abs(v / step - Math.round(v / step)) < 1e-6;

panels.forEach((p, k) => {
  const left = COL_L[p.col], width = COL_R[p.col] - COL_L[p.col];
  const top = ROW_TOP0 + ROW_STEP * p.row;
  grid.push({left, top, width, height: PLOT_H, containLabel: false});
  const [xmin, xmax, xint] = p.x, [ymin, ymax, yint] = p.y;
  const tickCommon = {show: true, inside: true, length: 3, lineStyle: {color: BOX, width: 1}};
  const lineCommon = {show: true, onZero: false, lineStyle: {color: BOX, width: 1}};
  xAxis.push({
    gridIndex: k, type: 'value', position: 'bottom', min: xmin, max: xmax, interval: xint,
    axisLine: lineCommon, axisTick: tickCommon, splitLine: {show: false},
    axisLabel: {margin: 1.5, fontSize: 8, color: TICK_TXT, fontFamily: SANS, showMaxLabel: isMult(xmax, xint)}
  });
  xAxis.push({
    gridIndex: k, type: 'value', position: 'top', min: xmin, max: xmax, interval: xint,
    axisLine: lineCommon, axisTick: tickCommon, splitLine: {show: false}, axisLabel: {show: false}
  });
  yAxis.push({
    gridIndex: k, type: 'value', position: 'left', min: ymin, max: ymax, interval: yint,
    axisLine: lineCommon, axisTick: tickCommon, splitLine: {show: false},
    axisLabel: {margin: 3, fontSize: 8, color: TICK_TXT, fontFamily: SANS}
  });
  yAxis.push({
    gridIndex: k, type: 'value', position: 'right', min: ymin, max: ymax, interval: yint,
    axisLine: lineCommon, axisTick: tickCommon, splitLine: {show: false}, axisLabel: {show: false}
  });
  series.push({
    type: 'scatter', xAxisIndex: 2 * k, yAxisIndex: 2 * k, data: p.pts,
    symbol: 'circle', symbolSize: 2.2, itemStyle: {color: '#2b2b2b'}, silent: true, z: 2
  });
  series.push({
    type: 'line', xAxisIndex: 2 * k, yAxisIndex: 2 * k,
    data: [[p.fit[0], p.fit[1]], [p.fit[2], p.fit[3]]],
    symbol: 'none', showSymbol: false, silent: true, z: 3,
    lineStyle: {color: '#ff2a2a', width: 1.3, type: [3, 2]}
  });
  const fx = FRAME_X[p.col];
  graphic.push({type: 'rect', silent: true, z: -1,
    shape: {x: fx[0] + 0.5, y: 9.5 + ROW_STEP * p.row, width: fx[1] - fx[0], height: 247},
    style: {fill: 'none', stroke: '#d6d6d6', lineWidth: 1}});
  // title
  graphic.push({type: 'text', silent: true, x: left + width / 2, y: top - 5.3, scaleX: 1.18,
    style: {text: p.title, fill: '#111', fontSize: 8, fontWeight: 'bold', fontFamily: SANS,
      align: 'center', textAlign: 'center', verticalAlign: 'middle', textVerticalAlign: 'middle'}});
  // x axis name
  graphic.push({type: 'text', silent: true, x: left + width / 2, y: top + PLOT_H + 15.8, scaleX: H_STRETCH,
    style: {text: p.xName, fill: '#444', fontSize: 8, fontFamily: SANS,
      align: 'center', textAlign: 'center', verticalAlign: 'middle', textVerticalAlign: 'middle'}});
  // y axis name (rotated)
  graphic.push({type: 'text', silent: true, x: left - 23.5, y: top + PLOT_H / 2, rotation: Math.PI / 2, scaleY: H_STRETCH,
    style: {text: Y_NAME, fill: '#444', fontSize: 8, fontFamily: SANS,
      align: 'center', textAlign: 'center', verticalAlign: 'middle', textVerticalAlign: 'middle'}});
  // correlation annotation
  graphic.push({type: 'text', silent: true, x: left + 0.6 * width, y: top + 43.5,
    style: {
      text: '{i|r}{n| = ' + p.ann[0] + ', }{i|p}{n| = ' + p.ann[1] + ' × 10}{s|' + p.ann[2] + '}',
      fill: '#333', verticalAlign: 'middle', textVerticalAlign: 'middle',
      rich: {
        i: {fontFamily: SERIF, fontStyle: 'italic', fontSize: 7.5, lineHeight: 10, verticalAlign: 'bottom', fill: '#333'},
        n: {fontFamily: SERIF, fontSize: 7.5, lineHeight: 10, verticalAlign: 'bottom', fill: '#333'},
        s: {fontFamily: SERIF, fontSize: 5.5, lineHeight: 10, verticalAlign: 'top', fill: '#333'}
      }
    }});
});

const chart = echarts.init(document.getElementById('c'), null, {renderer: 'canvas'});
chart.setOption({
  animation: false,
  backgroundColor: '#ffffff',
  grid, xAxis, yAxis, series, graphic
});
</script>
</body></html>
